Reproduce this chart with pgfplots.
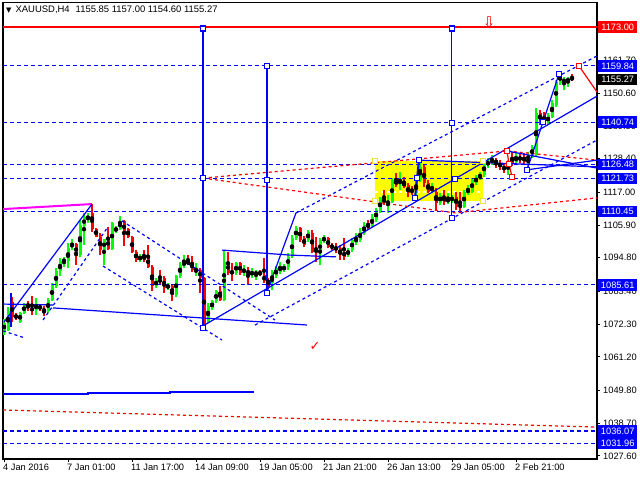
\documentclass[border=0pt]{standalone}
\usepackage{fontspec}
\setmainfont{Liberation Sans}
\newfontfamily\sym{DejaVu Sans}
\usepackage{pgfplots}
\usepackage{pgfplotstable}
\pgfplotsset{compat=1.18}

\definecolor{mtgreen}{RGB}{0,255,0}
\definecolor{mtred}{RGB}{255,0,0}
\definecolor{mtblue}{RGB}{0,0,255}
\definecolor{mtmag}{RGB}{255,0,255}
\definecolor{mtyellow}{RGB}{255,255,0}
\definecolor{boxyellow}{RGB}{235,225,60}

% XAUUSD H4 candles: bar index, open, high, low, close
\pgfplotstableread{
i o h l c
0 1070.0 1074.0 1068.6 1072.7
1 1070.3 1078.1 1070.0 1076.8
2 1079.8 1081.5 1073.0 1074.7
3 1075.4 1076.1 1073.7 1074.4
4 1073.1 1076.5 1072.7 1076.2
5 1076.1 1079.3 1075.7 1079.0
6 1079.3 1080.0 1076.6 1078.1
7 1077.8 1081.8 1075.4 1076.9
8 1077.1 1081.2 1075.4 1079.1
9 1078.6 1079.1 1076.8 1077.4
10 1077.4 1078.3 1074.9 1076.6
11 1076.6 1081.2 1076.2 1080.5
12 1080.5 1086.2 1080.0 1085.4
13 1085.1 1091.3 1084.6 1090.3
14 1090.3 1094.7 1088.6 1093.7
15 1093.7 1094.9 1091.8 1094.0
16 1093.7 1099.7 1091.3 1098.2
17 1098.3 1101.1 1097.4 1099.7
18 1099.6 1099.9 1092.3 1095.5
19 1095.6 1107.6 1095.2 1105.9
20 1105.6 1109.9 1099.1 1108.5
21 1108.2 1109.9 1106.5 1108.7
22 1110.0 1112.9 1103.5 1104.6
23 1104.6 1104.9 1101.8 1102.0
24 1102.0 1103.2 1095.7 1097.4
25 1097.4 1101.3 1092.3 1101.0
26 1101.5 1105.2 1097.4 1097.8
27 1097.8 1106.9 1097.4 1106.6
28 1103.9 1105.6 1103.2 1104.9
29 1104.6 1109.0 1104.2 1107.1
30 1107.1 1107.6 1098.8 1103.5
31 1104.6 1104.9 1101.5 1101.8
32 1101.8 1102.2 1096.4 1096.6
33 1096.8 1097.4 1093.4 1094.0
34 1094.0 1096.1 1093.4 1095.4
35 1095.7 1097.4 1093.4 1094.0
36 1095.1 1099.1 1091.3 1091.8
37 1091.8 1092.3 1083.4 1085.1
38 1085.1 1087.9 1084.6 1087.3
39 1087.3 1090.7 1085.6 1086.8
40 1087.9 1088.5 1082.9 1084.6
41 1084.6 1086.2 1083.9 1085.6
42 1085.2 1085.9 1080.0 1082.2
43 1082.2 1089.0 1081.5 1088.5
44 1088.5 1093.5 1087.9 1092.3
45 1092.3 1095.7 1091.3 1093.2
46 1093.5 1095.7 1092.3 1092.9
47 1093.2 1095.4 1090.0 1090.7
48 1090.1 1093.0 1088.5 1090.7
49 1090.7 1091.3 1082.9 1087.8
50 1087.8 1088.3 1071.0 1072.0
51 1073.2 1079.5 1072.7 1078.3
52 1077.6 1080.5 1077.1 1080.0
53 1080.0 1083.9 1079.5 1083.4
54 1083.4 1085.1 1080.0 1080.5
55 1080.5 1097.4 1080.3 1093.5
56 1093.5 1096.9 1089.0 1089.6
57 1090.1 1093.0 1086.8 1089.6
58 1089.6 1093.5 1089.0 1092.9
59 1092.9 1093.5 1089.0 1089.6
60 1090.1 1092.3 1088.5 1090.7
61 1090.7 1091.8 1085.6 1089.0
62 1089.0 1091.3 1087.9 1090.1
63 1089.0 1090.7 1087.3 1090.1
64 1090.1 1090.7 1088.5 1089.0
65 1089.0 1094.7 1086.1 1086.8
66 1087.3 1087.9 1084.6 1086.1
67 1086.1 1090.7 1083.9 1090.1
68 1088.5 1092.0 1087.9 1091.3
69 1090.0 1093.4 1089.3 1092.0
70 1090.7 1092.7 1090.0 1091.8
71 1091.8 1096.4 1090.7 1095.2
72 1095.4 1102.5 1094.7 1101.5
73 1101.5 1105.6 1100.8 1104.9
74 1104.9 1105.4 1100.3 1100.8
75 1101.5 1102.2 1098.4 1099.1
76 1100.8 1104.2 1100.1 1103.7
77 1103.2 1104.2 1096.4 1096.9
78 1098.1 1101.9 1093.5 1096.3
79 1096.3 1101.5 1092.3 1100.8
80 1100.8 1102.5 1099.7 1101.5
81 1101.5 1101.9 1098.0 1098.5
82 1099.1 1099.8 1097.4 1098.0
83 1098.5 1099.7 1096.3 1097.4
84 1098.1 1099.1 1094.0 1095.7
85 1096.9 1101.4 1094.0 1095.2
86 1095.7 1098.1 1095.1 1097.4
87 1097.4 1101.5 1096.8 1100.8
88 1099.7 1103.2 1099.1 1101.9
89 1100.8 1104.9 1100.1 1103.6
90 1103.1 1106.9 1102.5 1105.9
91 1106.5 1107.6 1104.2 1104.8
92 1105.3 1109.6 1104.9 1108.7
93 1107.6 1111.7 1106.9 1111.0
94 1110.4 1115.5 1109.9 1115.1
95 1115.1 1117.8 1112.7 1113.3
96 1113.3 1116.1 1109.9 1113.8
97 1113.8 1121.8 1113.4 1121.2
98 1121.2 1123.4 1118.9 1119.5
99 1120.3 1124.0 1117.8 1120.6
100 1120.6 1122.3 1118.3 1118.9
101 1119.5 1120.0 1115.5 1116.6
102 1117.8 1119.1 1116.1 1117.1
103 1116.8 1121.8 1115.1 1121.2
104 1121.2 1127.9 1120.5 1125.7
105 1125.7 1126.2 1118.9 1120.0
106 1120.0 1121.2 1116.8 1117.2
107 1117.2 1120.1 1116.8 1118.9
108 1117.2 1118.4 1111.0 1113.3
109 1113.3 1116.8 1112.7 1116.1
110 1115.5 1117.8 1112.7 1113.8
111 1113.8 1116.8 1113.0 1114.7
112 1114.4 1116.1 1113.4 1115.1
113 1115.5 1117.2 1111.0 1112.1
114 1113.3 1117.2 1109.9 1111.6
115 1112.1 1117.8 1111.7 1117.2
116 1116.6 1119.5 1116.1 1118.3
117 1117.2 1121.8 1116.8 1121.2
118 1120.0 1122.9 1119.5 1122.3
119 1121.7 1123.9 1121.2 1122.9
120 1122.9 1127.9 1122.2 1126.8
121 1126.2 1128.6 1125.2 1127.4
122 1126.8 1129.6 1126.2 1128.5
123 1127.9 1128.5 1125.1 1126.8
124 1126.8 1127.9 1124.6 1125.7
125 1125.7 1126.9 1123.5 1124.6
126 1124.6 1127.9 1122.9 1126.2
127 1129.1 1130.7 1125.9 1126.8
128 1127.4 1130.3 1126.9 1129.1
129 1129.1 1130.0 1126.9 1127.9
130 1129.1 1130.3 1126.2 1127.4
131 1127.9 1130.7 1124.6 1129.6
132 1129.1 1133.0 1128.6 1132.4
133 1129.6 1145.5 1129.1 1143.8
134 1143.8 1144.9 1139.8 1141.5
135 1143.2 1144.2 1139.8 1140.9
136 1140.4 1143.9 1139.8 1143.2
137 1142.6 1148.3 1142.2 1147.2
138 1146.6 1155.1 1145.9 1154.5
139 1153.9 1157.8 1153.4 1157.3
140 1154.5 1156.2 1151.7 1155.1
141 1154.8 1156.2 1152.8 1155.3
142 1155.85 1157.00 1154.60 1155.27
}\candles

\tikzset{
  hl/.style={mtblue, line width=1.2bp, dash pattern=on 4bp off 3bp},
  dl/.style={mtblue, line width=1.2bp, dash pattern=on 3bp off 3bp},
  rl/.style={mtred, line width=1.2bp, dash pattern=on 3bp off 3bp},
  sl/.style={mtblue, line width=1.2bp},
  sq/.style={only marks, mark=square*, mark size=2.5bp,
    mark options={fill=white, draw=mtblue, line width=1.2bp}},
  rsq/.style={only marks, mark=square*, mark size=2.5bp,
    mark options={fill=white, draw=mtred, line width=1.2bp}},
  ysq/.style={only marks, mark=square*, mark size=2.5bp,
    mark options={fill=white, draw=boxyellow, line width=1.2bp}},
  pricebox/.style={anchor=west, text=white, inner xsep=1bp, inner ysep=0pt,
    minimum height=11.5bp, minimum width=39bp, xshift=1bp,
    font=\fontsize{9.3}{10}\selectfont},
}

\begin{document}
\begin{tikzpicture}
\begin{axis}[
  name=ax,
  width=594bp, height=456.5bp, scale only axis,
  xmin=-0.25, xmax=148.25, ymin=1026.58, ymax=1181.33,
  axis line style={black, line width=1.2bp},
  xtick pos=bottom, ytick pos=right,
  tick align=outside, major tick length=3bp,
  tick style={black, line width=1bp},
  xtick={0,16,32,48,64,80,96,112,128},
  xticklabels={4 Jan 2016, 7 Jan 01:00, 11 Jan 17:00, 14 Jan 09:00, 19 Jan 05:00,
    21 Jan 21:00, 26 Jan 13:00, 29 Jan 05:00, 2 Feb 21:00},
  xticklabel style={anchor=north west, inner sep=1bp, xshift=-2bp, yshift=-1bp},
  ytick={1027.6,1038.7,1049.8,1061.2,1072.3,1083.4,1094.8,1105.9,1117.0,1128.4,1139.5,1150.6,1161.7},
  yticklabels={1027.60,1038.70,1049.80,1061.20,1072.30,1083.40,1094.80,1105.90,1117.00,1128.40,1139.50,1150.60,1161.70},
  yticklabel style={anchor=west, inner sep=1bp, xshift=2bp},
  tick label style={font=\fontsize{9.3}{10}\selectfont},
]

% rectangle zone
\addplot[fill=mtyellow, draw=none] coordinates
  {(92.75,1114.0) (119.75,1114.0) (119.75,1127.7) (92.75,1127.7)} --cycle;
\addplot[white, line width=1.2bp, dash pattern=on 3bp off 3bp] coordinates
  {(92.75,1117.1) (119.75,1117.1)};

% wicks
\addplot[only marks, mark=none,
  restrict expr to domain={\thisrow{c}-\thisrow{o}}{0:1000},
  error bars/.cd, y dir=both, y explicit, error mark=none,
  error bar style={mtgreen, line width=1.2bp}]
  table[x=i, y expr={(\thisrow{h}+\thisrow{l})/2}, y error expr={(\thisrow{h}-\thisrow{l})/2}] {\candles};
\addplot[only marks, mark=none,
  restrict expr to domain={\thisrow{o}-\thisrow{c}}{0.001:1000},
  error bars/.cd, y dir=both, y explicit, error mark=none,
  error bar style={mtred, line width=1.2bp}]
  table[x=i, y expr={(\thisrow{h}+\thisrow{l})/2}, y error expr={(\thisrow{h}-\thisrow{l})/2}] {\candles};
% bodies
\addplot[only marks, mark=none,
  restrict expr to domain={\thisrow{c}-\thisrow{o}}{0:1000},
  error bars/.cd, y dir=both, y explicit, error mark=none,
  error bar style={mtgreen, line width=3bp}]
  table[x=i, y expr={(\thisrow{o}+\thisrow{c})/2}, y error expr={max(abs(\thisrow{c}-\thisrow{o})/2,0.2)}] {\candles};
\addplot[only marks, mark=none,
  restrict expr to domain={\thisrow{o}-\thisrow{c}}{0.001:1000},
  error bars/.cd, y dir=both, y explicit, error mark=none,
  error bar style={mtred, line width=3bp}]
  table[x=i, y expr={(\thisrow{o}+\thisrow{c})/2}, y error expr={max(abs(\thisrow{c}-\thisrow{o})/2,0.2)}] {\candles};

% horizontal levels
\addplot[mtred, line width=1.2bp] coordinates {(-0.25,1173.00) (148.25,1173.00)};
\addplot[hl] coordinates {(-0.25,1159.84) (148.25,1159.84)};
\addplot[hl] coordinates {(-0.25,1140.74) (148.25,1140.74)};
\addplot[hl] coordinates {(-0.25,1126.48) (148.25,1126.48)};
\addplot[hl] coordinates {(-0.25,1121.73) (148.25,1121.73)};
\addplot[hl] coordinates {(-0.25,1110.45) (148.25,1110.45)};
\addplot[hl] coordinates {(-0.25,1085.61) (148.25,1085.61)};
\addplot[hl] coordinates {(-0.25,1036.07) (148.25,1036.07)};
\addplot[hl] coordinates {(-0.25,1031.96) (148.25,1031.96)};

% vertical measures
\addplot[sl] coordinates {(49.75,1172.5) (49.75,1071.0)};
\addplot[sl] coordinates {(65.75,1159.9) (65.75,1082.9)};
\addplot[sl] coordinates {(111.9,1172.5) (111.9,1108.3)};

% left side structure
\addplot[mtmag, line width=2bp] coordinates {(-0.25,1111.3) (22,1113.0)};
\addplot[sl] coordinates {(0,1073.0) (22,1113.0)};
\addplot[sl] coordinates {(-0.25,1079.1) (12.25,1078.8)};
\addplot[sl] coordinates {(12.25,1077.8) (75.75,1072.0)};
\addplot[sl] coordinates {(1.75,1082.9) (1.75,1071.3)};
\addplot[mtblue, line width=2bp] coordinates {(-0.25,1048.7) (21,1048.7) (21,1049.0) (41.5,1049.0) (41.5,1049.4) (62.5,1049.4)};
\addplot[rl] coordinates {(-0.25,1043.2) (148.25,1037.4)};
\addplot[dl] coordinates {(-0.25,1070.0) (5.25,1067.6)};
\addplot[dl] coordinates {(9.75,1073.7) (25.75,1104.8)};
\addplot[dl] coordinates {(24.75,1092.0) (54.5,1066.9)};
\addplot[dl] coordinates {(29.5,1107.3) (67.75,1073.7)};

% channel
\addplot[sl] coordinates {(49.75,1071.7) (148.25,1149.6)};
\addplot[dl] coordinates {(73,1110.0) (148.25,1163.2)};
\addplot[dl] coordinates {(62.75,1072.0) (148.25,1134.7)};
\addplot[sl] coordinates {(65.75,1083.2) (73,1110.0)};
\addplot[sl] coordinates {(54.5,1097.4) (71.5,1095.7) (83,1095.1)};

% red dashed fan
\addplot[rl] coordinates {(49.75,1121.8) (112.75,1110.0) (148.25,1115.1)};
\addplot[rl] coordinates {(49.75,1121.8) (125.75,1131.0) (148.25,1127.9)};

% right side structure
\addplot[sl] coordinates {(103.5,1127.9) (148.25,1125.6)};
\addplot[mtblue, line width=2bp] coordinates {(102.75,1115.1) (103.75,1127.9) (103.25,1121.8)};
\addplot[sl] coordinates {(125.75,1131.0) (148.25,1125.2)};
\addplot[sl] coordinates {(130.75,1124.6) (148.25,1127.9)};
\addplot[sl] coordinates {(130.75,1124.6) (134.75,1140.8) (138.75,1157.1)};
\addplot[mtred, line width=1.2bp] coordinates {(125.75,1131.0) (126.25,1126.6) (127,1122.2)};
\addplot[mtred, line width=1.2bp] coordinates {(143.75,1159.8) (148.25,1151.0)};

% anchor squares
\addplot[ysq] coordinates {(92.75,1127.7) (92.75,1114.0) (119.75,1114.0) (119.75,1127.7)};
\addplot[sq] coordinates {(49.75,1172.5) (49.75,1121.8) (49.75,1071.0)
  (65.75,1159.9) (65.75,1121.2) (65.75,1082.9)
  (111.9,1172.5) (111.9,1140.6) (111.9,1108.3) (112.75,1121.5)
  (102.75,1115.1) (103.75,1127.9) (103.25,1121.8)
  (130.75,1124.6) (134.75,1140.8) (138.75,1157.1)};
\addplot[rsq] coordinates {(125.75,1131.0) (126.25,1126.6) (127,1122.2) (143.75,1159.8)};

% texts
\node[anchor=west, inner sep=0pt, font=\fontsize{9.5}{10}\selectfont] at (axis cs:0.5,1178.8)
  {{\sym\fontsize{7}{8}\selectfont ▼}\hspace{4bp}XAUUSD,H4\hspace{6bp}1155.85 1157.00 1154.60 1155.27};
\node[text=mtred, inner sep=0pt, font=\sym\fontsize{13}{13}\selectfont] at (axis cs:77.75,1064.9) {✓};
\node[text=mtred, inner sep=0pt, font=\sym\fontsize{15}{15}\selectfont] at (axis cs:121.3,1174.8) {⇩};

% anchors for the price boxes
\coordinate (p1) at (axis cs:148.25,1173.00);
\coordinate (p2) at (axis cs:148.25,1159.84);
\coordinate (p3) at (axis cs:148.25,1155.27);
\coordinate (p4) at (axis cs:148.25,1140.74);
\coordinate (p5) at (axis cs:148.25,1126.48);
\coordinate (p6) at (axis cs:148.25,1121.73);
\coordinate (p7) at (axis cs:148.25,1110.45);
\coordinate (p8) at (axis cs:148.25,1085.61);
\coordinate (p9) at (axis cs:148.25,1036.07);
\coordinate (p10) at (axis cs:148.25,1031.96);
\end{axis}

\node[pricebox, fill=mtred] at (p1) {1173.00};
\node[pricebox, fill=mtblue] at (p2) {1159.84};
\node[pricebox, fill=black] at (p3) {1155.27};
\node[pricebox, fill=mtblue] at (p4) {1140.74};
\node[pricebox, fill=mtblue] at (p5) {1126.48};
\node[pricebox, fill=mtblue] at (p6) {1121.73};
\node[pricebox, fill=mtblue] at (p7) {1110.45};
\node[pricebox, fill=mtblue] at (p8) {1085.61};
\node[pricebox, fill=mtblue] at (p9) {1036.07};
\node[pricebox, fill=mtblue] at (p10) {1031.96};

\path ([xshift=-3bp,yshift=-21bp]ax.south west) rectangle ([xshift=43bp,yshift=2.5bp]ax.north east);
\end{tikzpicture}
\end{document}
